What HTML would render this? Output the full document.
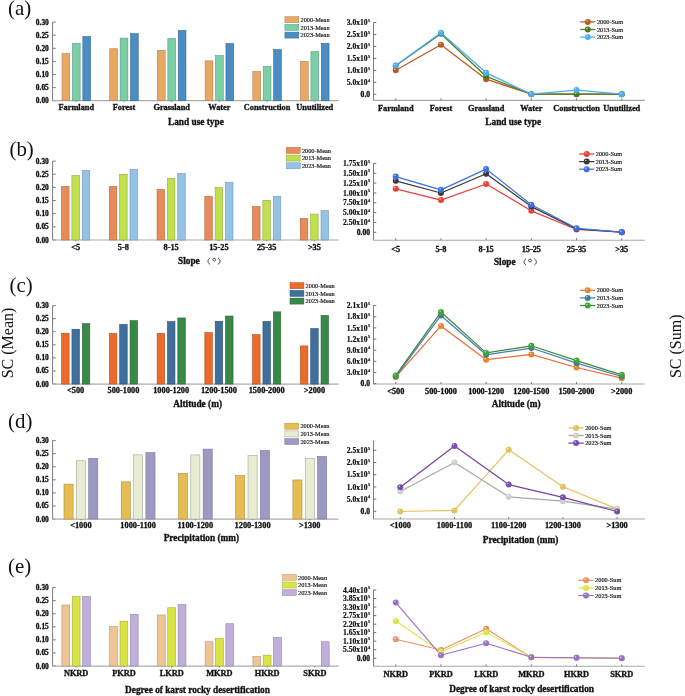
<!DOCTYPE html>
<html><head><meta charset="utf-8"><style>
html,body{margin:0;padding:0;background:#fff;}
svg{display:block;font-family:"Liberation Serif", serif;filter:blur(0.35px);}
</style></head><body>
<svg width="685" height="696" viewBox="0 0 685 696">
<defs><radialGradient id="gBA5A22" cx="0.36" cy="0.33" r="0.75"><stop offset="0" stop-color="#fff" stop-opacity="0.95"/><stop offset="0.22" stop-color="#BA5A22" stop-opacity="1"/><stop offset="0.8" stop-color="#BA5A22"/><stop offset="1" stop-color="#BA5A22" /></radialGradient><radialGradient id="g4B7B1F" cx="0.36" cy="0.33" r="0.75"><stop offset="0" stop-color="#fff" stop-opacity="0.95"/><stop offset="0.22" stop-color="#4B7B1F" stop-opacity="1"/><stop offset="0.8" stop-color="#4B7B1F"/><stop offset="1" stop-color="#4B7B1F" /></radialGradient><radialGradient id="g4AADF5" cx="0.36" cy="0.33" r="0.75"><stop offset="0" stop-color="#fff" stop-opacity="0.95"/><stop offset="0.22" stop-color="#4AADF5" stop-opacity="1"/><stop offset="0.8" stop-color="#4AADF5"/><stop offset="1" stop-color="#4AADF5" /></radialGradient><radialGradient id="gE8403C" cx="0.36" cy="0.33" r="0.75"><stop offset="0" stop-color="#fff" stop-opacity="0.95"/><stop offset="0.22" stop-color="#E8403C" stop-opacity="1"/><stop offset="0.8" stop-color="#E8403C"/><stop offset="1" stop-color="#E8403C" /></radialGradient><radialGradient id="g383838" cx="0.36" cy="0.33" r="0.75"><stop offset="0" stop-color="#fff" stop-opacity="0.95"/><stop offset="0.22" stop-color="#383838" stop-opacity="1"/><stop offset="0.8" stop-color="#383838"/><stop offset="1" stop-color="#383838" /></radialGradient><radialGradient id="g3A72E6" cx="0.36" cy="0.33" r="0.75"><stop offset="0" stop-color="#fff" stop-opacity="0.95"/><stop offset="0.22" stop-color="#3A72E6" stop-opacity="1"/><stop offset="0.8" stop-color="#3A72E6"/><stop offset="1" stop-color="#3A72E6" /></radialGradient><radialGradient id="gE8832E" cx="0.36" cy="0.33" r="0.75"><stop offset="0" stop-color="#fff" stop-opacity="0.95"/><stop offset="0.22" stop-color="#E8832E" stop-opacity="1"/><stop offset="0.8" stop-color="#E8832E"/><stop offset="1" stop-color="#E8832E" /></radialGradient><radialGradient id="g3A8094" cx="0.36" cy="0.33" r="0.75"><stop offset="0" stop-color="#fff" stop-opacity="0.95"/><stop offset="0.22" stop-color="#3A8094" stop-opacity="1"/><stop offset="0.8" stop-color="#3A8094"/><stop offset="1" stop-color="#3A8094" /></radialGradient><radialGradient id="g40A232" cx="0.36" cy="0.33" r="0.75"><stop offset="0" stop-color="#fff" stop-opacity="0.95"/><stop offset="0.22" stop-color="#40A232" stop-opacity="1"/><stop offset="0.8" stop-color="#40A232"/><stop offset="1" stop-color="#40A232" /></radialGradient><radialGradient id="gE4C060" cx="0.36" cy="0.33" r="0.75"><stop offset="0" stop-color="#fff" stop-opacity="0.95"/><stop offset="0.22" stop-color="#E4C060" stop-opacity="1"/><stop offset="0.8" stop-color="#E4C060"/><stop offset="1" stop-color="#E4C060" /></radialGradient><radialGradient id="gD0D0C8" cx="0.36" cy="0.33" r="0.75"><stop offset="0" stop-color="#fff" stop-opacity="0.95"/><stop offset="0.22" stop-color="#D0D0C8" stop-opacity="1"/><stop offset="0.8" stop-color="#D0D0C8"/><stop offset="1" stop-color="#D0D0C8" /></radialGradient><radialGradient id="g7A4EAE" cx="0.36" cy="0.33" r="0.75"><stop offset="0" stop-color="#fff" stop-opacity="0.95"/><stop offset="0.22" stop-color="#7A4EAE" stop-opacity="1"/><stop offset="0.8" stop-color="#7A4EAE"/><stop offset="1" stop-color="#7A4EAE" /></radialGradient><radialGradient id="gEE9068" cx="0.36" cy="0.33" r="0.75"><stop offset="0" stop-color="#fff" stop-opacity="0.95"/><stop offset="0.22" stop-color="#EE9068" stop-opacity="1"/><stop offset="0.8" stop-color="#EE9068"/><stop offset="1" stop-color="#EE9068" /></radialGradient><radialGradient id="gD8E640" cx="0.36" cy="0.33" r="0.75"><stop offset="0" stop-color="#fff" stop-opacity="0.95"/><stop offset="0.22" stop-color="#D8E640" stop-opacity="1"/><stop offset="0.8" stop-color="#D8E640"/><stop offset="1" stop-color="#D8E640" /></radialGradient><radialGradient id="g9A70C8" cx="0.36" cy="0.33" r="0.75"><stop offset="0" stop-color="#fff" stop-opacity="0.95"/><stop offset="0.22" stop-color="#9A70C8" stop-opacity="1"/><stop offset="0.8" stop-color="#9A70C8"/><stop offset="1" stop-color="#9A70C8" /></radialGradient></defs>
<rect width="685" height="696" fill="#fff"/>
<line x1="52.6" y1="22.1" x2="52.6" y2="100.7" stroke="#6e6e6e" stroke-width="0.9"/>
<line x1="52.6" y1="100.7" x2="55.800000000000004" y2="100.7" stroke="#6e6e6e" stroke-width="0.9"/>
<text x="48.8" y="103.2" font-size="7.4" font-weight="bold" stroke="#111" stroke-width="0.32" text-anchor="end" fill="#111" >0.00</text>
<line x1="52.6" y1="87.6" x2="55.800000000000004" y2="87.6" stroke="#6e6e6e" stroke-width="0.9"/>
<text x="48.8" y="90.1" font-size="7.4" font-weight="bold" stroke="#111" stroke-width="0.32" text-anchor="end" fill="#111" >0.05</text>
<line x1="52.6" y1="74.5" x2="55.800000000000004" y2="74.5" stroke="#6e6e6e" stroke-width="0.9"/>
<text x="48.8" y="77" font-size="7.4" font-weight="bold" stroke="#111" stroke-width="0.32" text-anchor="end" fill="#111" >0.10</text>
<line x1="52.6" y1="61.4" x2="55.800000000000004" y2="61.4" stroke="#6e6e6e" stroke-width="0.9"/>
<text x="48.8" y="63.9" font-size="7.4" font-weight="bold" stroke="#111" stroke-width="0.32" text-anchor="end" fill="#111" >0.15</text>
<line x1="52.6" y1="48.3" x2="55.800000000000004" y2="48.3" stroke="#6e6e6e" stroke-width="0.9"/>
<text x="48.8" y="50.8" font-size="7.4" font-weight="bold" stroke="#111" stroke-width="0.32" text-anchor="end" fill="#111" >0.20</text>
<line x1="52.6" y1="35.2" x2="55.800000000000004" y2="35.2" stroke="#6e6e6e" stroke-width="0.9"/>
<text x="48.8" y="37.7" font-size="7.4" font-weight="bold" stroke="#111" stroke-width="0.32" text-anchor="end" fill="#111" >0.25</text>
<line x1="52.6" y1="22.1" x2="55.800000000000004" y2="22.1" stroke="#6e6e6e" stroke-width="0.9"/>
<text x="48.8" y="24.6" font-size="7.4" font-weight="bold" stroke="#111" stroke-width="0.32" text-anchor="end" fill="#111" >0.30</text>
<line x1="52.15" y1="100.7" x2="338.6" y2="100.7" stroke="#acacac" stroke-width="1.2"/>
<rect x="62.05" y="53.65" width="7.7" height="47.05" fill="#E9A862" stroke="#b08050" stroke-width="0.6"/>
<rect x="72.45" y="43.25" width="7.7" height="57.45" fill="#7BCFA7" stroke="#5a9a80" stroke-width="0.6"/>
<rect x="82.85" y="36.55" width="7.7" height="64.15" fill="#4A8DC2" stroke="#3a6a90" stroke-width="0.6"/>
<text x="76.3" y="109.8" font-size="8.3" font-weight="bold" stroke="#111" stroke-width="0.32" text-anchor="middle" fill="#111" >Farmland</text>
<rect x="109.75" y="48.75" width="7.7" height="51.95" fill="#E9A862" stroke="#b08050" stroke-width="0.6"/>
<rect x="120.15" y="38.1" width="7.7" height="62.6" fill="#7BCFA7" stroke="#5a9a80" stroke-width="0.6"/>
<rect x="130.55" y="33.65" width="7.7" height="67.05" fill="#4A8DC2" stroke="#3a6a90" stroke-width="0.6"/>
<text x="124" y="109.8" font-size="8.3" font-weight="bold" stroke="#111" stroke-width="0.32" text-anchor="middle" fill="#111" >Forest</text>
<rect x="157.45" y="50.45" width="7.7" height="50.25" fill="#E9A862" stroke="#b08050" stroke-width="0.6"/>
<rect x="167.85" y="38.65" width="7.7" height="62.05" fill="#7BCFA7" stroke="#5a9a80" stroke-width="0.6"/>
<rect x="178.25" y="30.45" width="7.7" height="70.25" fill="#4A8DC2" stroke="#3a6a90" stroke-width="0.6"/>
<text x="171.7" y="109.8" font-size="8.3" font-weight="bold" stroke="#111" stroke-width="0.32" text-anchor="middle" fill="#111" >Grassland</text>
<rect x="205.15" y="60.85" width="7.7" height="39.85" fill="#E9A862" stroke="#b08050" stroke-width="0.6"/>
<rect x="215.55" y="55.55" width="7.7" height="45.15" fill="#7BCFA7" stroke="#5a9a80" stroke-width="0.6"/>
<rect x="225.95" y="43.55" width="7.7" height="57.15" fill="#4A8DC2" stroke="#3a6a90" stroke-width="0.6"/>
<text x="219.4" y="109.8" font-size="8.3" font-weight="bold" stroke="#111" stroke-width="0.32" text-anchor="middle" fill="#111" >Water</text>
<rect x="252.85" y="71.55" width="7.7" height="29.15" fill="#E9A862" stroke="#b08050" stroke-width="0.6"/>
<rect x="263.25" y="66.65" width="7.7" height="34.05" fill="#7BCFA7" stroke="#5a9a80" stroke-width="0.6"/>
<rect x="273.65" y="49.65" width="7.7" height="51.05" fill="#4A8DC2" stroke="#3a6a90" stroke-width="0.6"/>
<text x="267.1" y="109.8" font-size="8.3" font-weight="bold" stroke="#111" stroke-width="0.32" text-anchor="middle" fill="#111" >Construction</text>
<rect x="300.55" y="61.55" width="7.7" height="39.15" fill="#E9A862" stroke="#b08050" stroke-width="0.6"/>
<rect x="310.95" y="51.65" width="7.7" height="49.05" fill="#7BCFA7" stroke="#5a9a80" stroke-width="0.6"/>
<rect x="321.35" y="43.35" width="7.7" height="57.35" fill="#4A8DC2" stroke="#3a6a90" stroke-width="0.6"/>
<text x="314.8" y="109.8" font-size="8.3" font-weight="bold" stroke="#111" stroke-width="0.32" text-anchor="middle" fill="#111" >Unutilized</text>
<text x="195.9" y="125" font-size="9.3" font-weight="bold" stroke="#111" stroke-width="0.32" text-anchor="middle" fill="#111" >Land use type</text>
<line x1="76.3" y1="100.7" x2="76.3" y2="102.1" stroke="#6e6e6e" stroke-width="0.7"/>
<line x1="124" y1="100.7" x2="124" y2="102.1" stroke="#6e6e6e" stroke-width="0.7"/>
<line x1="171.7" y1="100.7" x2="171.7" y2="102.1" stroke="#6e6e6e" stroke-width="0.7"/>
<line x1="219.4" y1="100.7" x2="219.4" y2="102.1" stroke="#6e6e6e" stroke-width="0.7"/>
<line x1="267.1" y1="100.7" x2="267.1" y2="102.1" stroke="#6e6e6e" stroke-width="0.7"/>
<line x1="314.8" y1="100.7" x2="314.8" y2="102.1" stroke="#6e6e6e" stroke-width="0.7"/>
<rect x="284.9" y="16.7" width="13.9" height="6" fill="#E9A862" stroke="#b08050" stroke-width="0.5"/>
<text x="300.5" y="21.9" font-size="6.3" text-anchor="start" fill="#1a1a1a" stroke="#1a1a1a" stroke-width="0.2">2000-Mean</text>
<rect x="284.9" y="24.4" width="13.9" height="6" fill="#7BCFA7" stroke="#5a9a80" stroke-width="0.5"/>
<text x="300.5" y="29.6" font-size="6.3" text-anchor="start" fill="#1a1a1a" stroke="#1a1a1a" stroke-width="0.2">2013-Mean</text>
<rect x="284.9" y="32.1" width="13.9" height="6" fill="#4A8DC2" stroke="#3a6a90" stroke-width="0.5"/>
<text x="300.5" y="37.3" font-size="6.3" text-anchor="start" fill="#1a1a1a" stroke="#1a1a1a" stroke-width="0.2">2023-Mean</text>
<line x1="52.6" y1="161.1" x2="52.6" y2="240" stroke="#6e6e6e" stroke-width="0.9"/>
<line x1="52.6" y1="240" x2="55.800000000000004" y2="240" stroke="#6e6e6e" stroke-width="0.9"/>
<text x="48.8" y="242.5" font-size="7.4" font-weight="bold" stroke="#111" stroke-width="0.32" text-anchor="end" fill="#111" >0.00</text>
<line x1="52.6" y1="226.85" x2="55.800000000000004" y2="226.85" stroke="#6e6e6e" stroke-width="0.9"/>
<text x="48.8" y="229.35" font-size="7.4" font-weight="bold" stroke="#111" stroke-width="0.32" text-anchor="end" fill="#111" >0.05</text>
<line x1="52.6" y1="213.7" x2="55.800000000000004" y2="213.7" stroke="#6e6e6e" stroke-width="0.9"/>
<text x="48.8" y="216.2" font-size="7.4" font-weight="bold" stroke="#111" stroke-width="0.32" text-anchor="end" fill="#111" >0.10</text>
<line x1="52.6" y1="200.55" x2="55.800000000000004" y2="200.55" stroke="#6e6e6e" stroke-width="0.9"/>
<text x="48.8" y="203.05" font-size="7.4" font-weight="bold" stroke="#111" stroke-width="0.32" text-anchor="end" fill="#111" >0.15</text>
<line x1="52.6" y1="187.4" x2="55.800000000000004" y2="187.4" stroke="#6e6e6e" stroke-width="0.9"/>
<text x="48.8" y="189.9" font-size="7.4" font-weight="bold" stroke="#111" stroke-width="0.32" text-anchor="end" fill="#111" >0.20</text>
<line x1="52.6" y1="174.25" x2="55.800000000000004" y2="174.25" stroke="#6e6e6e" stroke-width="0.9"/>
<text x="48.8" y="176.75" font-size="7.4" font-weight="bold" stroke="#111" stroke-width="0.32" text-anchor="end" fill="#111" >0.25</text>
<line x1="52.6" y1="161.1" x2="55.800000000000004" y2="161.1" stroke="#6e6e6e" stroke-width="0.9"/>
<text x="48.8" y="163.6" font-size="7.4" font-weight="bold" stroke="#111" stroke-width="0.32" text-anchor="end" fill="#111" >0.30</text>
<line x1="52.15" y1="240" x2="338.6" y2="240" stroke="#acacac" stroke-width="1.2"/>
<rect x="61.55" y="186.45" width="7.5" height="53.55" fill="#E98B58" stroke="#b06a40" stroke-width="0.6"/>
<rect x="71.9" y="175.65" width="7.5" height="64.35" fill="#C0E04E" stroke="#90a840" stroke-width="0.6"/>
<rect x="82.25" y="170.45" width="7.5" height="69.55" fill="#95C2E7" stroke="#7098b8" stroke-width="0.6"/>
<text x="75.65" y="250.2" font-size="8.3" font-weight="bold" stroke="#111" stroke-width="0.32" text-anchor="middle" fill="#111" >&lt;5</text>
<rect x="109.3" y="186.45" width="7.5" height="53.55" fill="#E98B58" stroke="#b06a40" stroke-width="0.6"/>
<rect x="119.65" y="174.45" width="7.5" height="65.55" fill="#C0E04E" stroke="#90a840" stroke-width="0.6"/>
<rect x="130" y="169.35" width="7.5" height="70.65" fill="#95C2E7" stroke="#7098b8" stroke-width="0.6"/>
<text x="123.4" y="250.2" font-size="8.3" font-weight="bold" stroke="#111" stroke-width="0.32" text-anchor="middle" fill="#111" >5-8</text>
<rect x="157.05" y="189.41" width="7.5" height="50.59" fill="#E98B58" stroke="#b06a40" stroke-width="0.6"/>
<rect x="167.4" y="178.45" width="7.5" height="61.55" fill="#C0E04E" stroke="#90a840" stroke-width="0.6"/>
<rect x="177.75" y="173.41" width="7.5" height="66.59" fill="#95C2E7" stroke="#7098b8" stroke-width="0.6"/>
<text x="171.15" y="250.2" font-size="8.3" font-weight="bold" stroke="#111" stroke-width="0.32" text-anchor="middle" fill="#111" >8-15</text>
<rect x="204.8" y="196.45" width="7.5" height="43.55" fill="#E98B58" stroke="#b06a40" stroke-width="0.6"/>
<rect x="215.15" y="187.55" width="7.5" height="52.45" fill="#C0E04E" stroke="#90a840" stroke-width="0.6"/>
<rect x="225.5" y="182.65" width="7.5" height="57.35" fill="#95C2E7" stroke="#7098b8" stroke-width="0.6"/>
<text x="218.9" y="250.2" font-size="8.3" font-weight="bold" stroke="#111" stroke-width="0.32" text-anchor="middle" fill="#111" >15-25</text>
<rect x="252.55" y="206.65" width="7.5" height="33.35" fill="#E98B58" stroke="#b06a40" stroke-width="0.6"/>
<rect x="262.9" y="200.35" width="7.5" height="39.65" fill="#C0E04E" stroke="#90a840" stroke-width="0.6"/>
<rect x="273.25" y="196.25" width="7.5" height="43.75" fill="#95C2E7" stroke="#7098b8" stroke-width="0.6"/>
<text x="266.65" y="250.2" font-size="8.3" font-weight="bold" stroke="#111" stroke-width="0.32" text-anchor="middle" fill="#111" >25-35</text>
<rect x="300.3" y="218.45" width="7.5" height="21.55" fill="#E98B58" stroke="#b06a40" stroke-width="0.6"/>
<rect x="310.65" y="214.15" width="7.5" height="25.85" fill="#C0E04E" stroke="#90a840" stroke-width="0.6"/>
<rect x="321" y="210.65" width="7.5" height="29.35" fill="#95C2E7" stroke="#7098b8" stroke-width="0.6"/>
<text x="314.4" y="250.2" font-size="8.3" font-weight="bold" stroke="#111" stroke-width="0.32" text-anchor="middle" fill="#111" >&gt;35</text>
<line x1="75.65" y1="240" x2="75.65" y2="241.4" stroke="#6e6e6e" stroke-width="0.7"/>
<line x1="123.4" y1="240" x2="123.4" y2="241.4" stroke="#6e6e6e" stroke-width="0.7"/>
<line x1="171.15" y1="240" x2="171.15" y2="241.4" stroke="#6e6e6e" stroke-width="0.7"/>
<line x1="218.9" y1="240" x2="218.9" y2="241.4" stroke="#6e6e6e" stroke-width="0.7"/>
<line x1="266.65" y1="240" x2="266.65" y2="241.4" stroke="#6e6e6e" stroke-width="0.7"/>
<line x1="314.4" y1="240" x2="314.4" y2="241.4" stroke="#6e6e6e" stroke-width="0.7"/>
<rect x="286.3" y="147.4" width="13.9" height="6" fill="#E98B58" stroke="#b06a40" stroke-width="0.5"/>
<text x="301.9" y="152.6" font-size="6.3" text-anchor="start" fill="#1a1a1a" stroke="#1a1a1a" stroke-width="0.2">2000-Mean</text>
<rect x="286.3" y="155.1" width="13.9" height="6" fill="#C0E04E" stroke="#90a840" stroke-width="0.5"/>
<text x="301.9" y="160.3" font-size="6.3" text-anchor="start" fill="#1a1a1a" stroke="#1a1a1a" stroke-width="0.2">2013-Mean</text>
<rect x="286.3" y="162.8" width="13.9" height="6" fill="#95C2E7" stroke="#7098b8" stroke-width="0.5"/>
<text x="301.9" y="168" font-size="6.3" text-anchor="start" fill="#1a1a1a" stroke="#1a1a1a" stroke-width="0.2">2023-Mean</text>
<line x1="52.6" y1="305.63" x2="52.6" y2="384.05" stroke="#6e6e6e" stroke-width="0.9"/>
<line x1="52.6" y1="384.05" x2="55.800000000000004" y2="384.05" stroke="#6e6e6e" stroke-width="0.9"/>
<text x="48.8" y="386.55" font-size="7.4" font-weight="bold" stroke="#111" stroke-width="0.32" text-anchor="end" fill="#111" >0.00</text>
<line x1="52.6" y1="370.98" x2="55.800000000000004" y2="370.98" stroke="#6e6e6e" stroke-width="0.9"/>
<text x="48.8" y="373.48" font-size="7.4" font-weight="bold" stroke="#111" stroke-width="0.32" text-anchor="end" fill="#111" >0.05</text>
<line x1="52.6" y1="357.91" x2="55.800000000000004" y2="357.91" stroke="#6e6e6e" stroke-width="0.9"/>
<text x="48.8" y="360.41" font-size="7.4" font-weight="bold" stroke="#111" stroke-width="0.32" text-anchor="end" fill="#111" >0.10</text>
<line x1="52.6" y1="344.84" x2="55.800000000000004" y2="344.84" stroke="#6e6e6e" stroke-width="0.9"/>
<text x="48.8" y="347.34" font-size="7.4" font-weight="bold" stroke="#111" stroke-width="0.32" text-anchor="end" fill="#111" >0.15</text>
<line x1="52.6" y1="331.77" x2="55.800000000000004" y2="331.77" stroke="#6e6e6e" stroke-width="0.9"/>
<text x="48.8" y="334.27" font-size="7.4" font-weight="bold" stroke="#111" stroke-width="0.32" text-anchor="end" fill="#111" >0.20</text>
<line x1="52.6" y1="318.7" x2="55.800000000000004" y2="318.7" stroke="#6e6e6e" stroke-width="0.9"/>
<text x="48.8" y="321.2" font-size="7.4" font-weight="bold" stroke="#111" stroke-width="0.32" text-anchor="end" fill="#111" >0.25</text>
<line x1="52.6" y1="305.63" x2="55.800000000000004" y2="305.63" stroke="#6e6e6e" stroke-width="0.9"/>
<text x="48.8" y="308.13" font-size="7.4" font-weight="bold" stroke="#111" stroke-width="0.32" text-anchor="end" fill="#111" >0.30</text>
<line x1="52.15" y1="384.05" x2="338.6" y2="384.05" stroke="#acacac" stroke-width="1.2"/>
<rect x="61.6" y="333.25" width="7.5" height="50.8" fill="#EC6B2A" stroke="#b05020" stroke-width="0.6"/>
<rect x="71.95" y="329.25" width="7.5" height="54.8" fill="#3F6F9D" stroke="#2f5070" stroke-width="0.6"/>
<rect x="82.3" y="323.65" width="7.5" height="60.4" fill="#39884A" stroke="#2a6636" stroke-width="0.6"/>
<text x="75.7" y="393.3" font-size="8.3" font-weight="bold" stroke="#111" stroke-width="0.32" text-anchor="middle" fill="#111" >&lt;500</text>
<rect x="109.35" y="333.55" width="7.5" height="50.5" fill="#EC6B2A" stroke="#b05020" stroke-width="0.6"/>
<rect x="119.7" y="324.35" width="7.5" height="59.7" fill="#3F6F9D" stroke="#2f5070" stroke-width="0.6"/>
<rect x="130.05" y="320.65" width="7.5" height="63.4" fill="#39884A" stroke="#2a6636" stroke-width="0.6"/>
<text x="123.45" y="393.3" font-size="8.3" font-weight="bold" stroke="#111" stroke-width="0.32" text-anchor="middle" fill="#111" >500-1000</text>
<rect x="157.1" y="333.35" width="7.5" height="50.7" fill="#EC6B2A" stroke="#b05020" stroke-width="0.6"/>
<rect x="167.45" y="321.55" width="7.5" height="62.5" fill="#3F6F9D" stroke="#2f5070" stroke-width="0.6"/>
<rect x="177.8" y="317.95" width="7.5" height="66.1" fill="#39884A" stroke="#2a6636" stroke-width="0.6"/>
<text x="171.2" y="393.3" font-size="8.3" font-weight="bold" stroke="#111" stroke-width="0.32" text-anchor="middle" fill="#111" >1000-1200</text>
<rect x="204.85" y="332.65" width="7.5" height="51.4" fill="#EC6B2A" stroke="#b05020" stroke-width="0.6"/>
<rect x="215.2" y="321.3" width="7.5" height="62.75" fill="#3F6F9D" stroke="#2f5070" stroke-width="0.6"/>
<rect x="225.55" y="316.05" width="7.5" height="68" fill="#39884A" stroke="#2a6636" stroke-width="0.6"/>
<text x="218.95" y="393.3" font-size="8.3" font-weight="bold" stroke="#111" stroke-width="0.32" text-anchor="middle" fill="#111" >1200-1500</text>
<rect x="252.6" y="334.65" width="7.5" height="49.4" fill="#EC6B2A" stroke="#b05020" stroke-width="0.6"/>
<rect x="262.95" y="321.45" width="7.5" height="62.6" fill="#3F6F9D" stroke="#2f5070" stroke-width="0.6"/>
<rect x="273.3" y="311.85" width="7.5" height="72.2" fill="#39884A" stroke="#2a6636" stroke-width="0.6"/>
<text x="266.7" y="393.3" font-size="8.3" font-weight="bold" stroke="#111" stroke-width="0.32" text-anchor="middle" fill="#111" >1500-2000</text>
<rect x="300.35" y="345.95" width="7.5" height="38.1" fill="#EC6B2A" stroke="#b05020" stroke-width="0.6"/>
<rect x="310.7" y="328.55" width="7.5" height="55.5" fill="#3F6F9D" stroke="#2f5070" stroke-width="0.6"/>
<rect x="321.05" y="315.45" width="7.5" height="68.6" fill="#39884A" stroke="#2a6636" stroke-width="0.6"/>
<text x="314.45" y="393.3" font-size="8.3" font-weight="bold" stroke="#111" stroke-width="0.32" text-anchor="middle" fill="#111" >&gt;2000</text>
<text x="197.6" y="407" font-size="9.3" font-weight="bold" stroke="#111" stroke-width="0.32" text-anchor="middle" fill="#111" >Altitude (m)</text>
<line x1="75.7" y1="384.05" x2="75.7" y2="385.45" stroke="#6e6e6e" stroke-width="0.7"/>
<line x1="123.45" y1="384.05" x2="123.45" y2="385.45" stroke="#6e6e6e" stroke-width="0.7"/>
<line x1="171.2" y1="384.05" x2="171.2" y2="385.45" stroke="#6e6e6e" stroke-width="0.7"/>
<line x1="218.95" y1="384.05" x2="218.95" y2="385.45" stroke="#6e6e6e" stroke-width="0.7"/>
<line x1="266.7" y1="384.05" x2="266.7" y2="385.45" stroke="#6e6e6e" stroke-width="0.7"/>
<line x1="314.45" y1="384.05" x2="314.45" y2="385.45" stroke="#6e6e6e" stroke-width="0.7"/>
<rect x="290" y="282.7" width="13.9" height="6" fill="#EC6B2A" stroke="#b05020" stroke-width="0.5"/>
<text x="305.6" y="287.9" font-size="6.3" text-anchor="start" fill="#1a1a1a" stroke="#1a1a1a" stroke-width="0.2">2000-Mean</text>
<rect x="290" y="290.4" width="13.9" height="6" fill="#3F6F9D" stroke="#2f5070" stroke-width="0.5"/>
<text x="305.6" y="295.6" font-size="6.3" text-anchor="start" fill="#1a1a1a" stroke="#1a1a1a" stroke-width="0.2">2013-Mean</text>
<rect x="290" y="298.1" width="13.9" height="6" fill="#39884A" stroke="#2a6636" stroke-width="0.5"/>
<text x="305.6" y="303.3" font-size="6.3" text-anchor="start" fill="#1a1a1a" stroke="#1a1a1a" stroke-width="0.2">2023-Mean</text>
<line x1="52.6" y1="440.63" x2="52.6" y2="519.05" stroke="#6e6e6e" stroke-width="0.9"/>
<line x1="52.6" y1="519.05" x2="55.800000000000004" y2="519.05" stroke="#6e6e6e" stroke-width="0.9"/>
<text x="48.8" y="521.55" font-size="7.4" font-weight="bold" stroke="#111" stroke-width="0.32" text-anchor="end" fill="#111" >0.00</text>
<line x1="52.6" y1="505.98" x2="55.800000000000004" y2="505.98" stroke="#6e6e6e" stroke-width="0.9"/>
<text x="48.8" y="508.48" font-size="7.4" font-weight="bold" stroke="#111" stroke-width="0.32" text-anchor="end" fill="#111" >0.05</text>
<line x1="52.6" y1="492.91" x2="55.800000000000004" y2="492.91" stroke="#6e6e6e" stroke-width="0.9"/>
<text x="48.8" y="495.41" font-size="7.4" font-weight="bold" stroke="#111" stroke-width="0.32" text-anchor="end" fill="#111" >0.10</text>
<line x1="52.6" y1="479.84" x2="55.800000000000004" y2="479.84" stroke="#6e6e6e" stroke-width="0.9"/>
<text x="48.8" y="482.34" font-size="7.4" font-weight="bold" stroke="#111" stroke-width="0.32" text-anchor="end" fill="#111" >0.15</text>
<line x1="52.6" y1="466.77" x2="55.800000000000004" y2="466.77" stroke="#6e6e6e" stroke-width="0.9"/>
<text x="48.8" y="469.27" font-size="7.4" font-weight="bold" stroke="#111" stroke-width="0.32" text-anchor="end" fill="#111" >0.20</text>
<line x1="52.6" y1="453.7" x2="55.800000000000004" y2="453.7" stroke="#6e6e6e" stroke-width="0.9"/>
<text x="48.8" y="456.2" font-size="7.4" font-weight="bold" stroke="#111" stroke-width="0.32" text-anchor="end" fill="#111" >0.25</text>
<line x1="52.6" y1="440.63" x2="55.800000000000004" y2="440.63" stroke="#6e6e6e" stroke-width="0.9"/>
<text x="48.8" y="443.13" font-size="7.4" font-weight="bold" stroke="#111" stroke-width="0.32" text-anchor="end" fill="#111" >0.30</text>
<line x1="52.15" y1="519.05" x2="338.6" y2="519.05" stroke="#acacac" stroke-width="1.2"/>
<rect x="64" y="484.15" width="9.1" height="34.9" fill="#E6BD52" stroke="#b09040" stroke-width="0.6"/>
<rect x="76.35" y="460.75" width="9.1" height="58.3" fill="#E8ECD2" stroke="#a0a898" stroke-width="0.6"/>
<rect x="88.7" y="458.35" width="9.1" height="60.7" fill="#9C9AC3" stroke="#7a7898" stroke-width="0.6"/>
<text x="80.9" y="527.7" font-size="8.3" font-weight="bold" stroke="#111" stroke-width="0.32" text-anchor="middle" fill="#111" >&lt;1000</text>
<rect x="121.22" y="481.85" width="9.1" height="37.2" fill="#E6BD52" stroke="#b09040" stroke-width="0.6"/>
<rect x="133.57" y="454.85" width="9.1" height="64.2" fill="#E8ECD2" stroke="#a0a898" stroke-width="0.6"/>
<rect x="145.92" y="452.65" width="9.1" height="66.4" fill="#9C9AC3" stroke="#7a7898" stroke-width="0.6"/>
<text x="138.12" y="527.7" font-size="8.3" font-weight="bold" stroke="#111" stroke-width="0.32" text-anchor="middle" fill="#111" >1000-1100</text>
<rect x="178.44" y="473.35" width="9.1" height="45.7" fill="#E6BD52" stroke="#b09040" stroke-width="0.6"/>
<rect x="190.79" y="454.95" width="9.1" height="64.1" fill="#E8ECD2" stroke="#a0a898" stroke-width="0.6"/>
<rect x="203.14" y="449.11" width="9.1" height="69.94" fill="#9C9AC3" stroke="#7a7898" stroke-width="0.6"/>
<text x="195.34" y="527.7" font-size="8.3" font-weight="bold" stroke="#111" stroke-width="0.32" text-anchor="middle" fill="#111" >1100-1200</text>
<rect x="235.66" y="475.55" width="9.1" height="43.5" fill="#E6BD52" stroke="#b09040" stroke-width="0.6"/>
<rect x="248.01" y="455.55" width="9.1" height="63.5" fill="#E8ECD2" stroke="#a0a898" stroke-width="0.6"/>
<rect x="260.36" y="450.55" width="9.1" height="68.5" fill="#9C9AC3" stroke="#7a7898" stroke-width="0.6"/>
<text x="252.56" y="527.7" font-size="8.3" font-weight="bold" stroke="#111" stroke-width="0.32" text-anchor="middle" fill="#111" >1200-1300</text>
<rect x="292.88" y="479.95" width="9.1" height="39.1" fill="#E6BD52" stroke="#b09040" stroke-width="0.6"/>
<rect x="305.23" y="458.65" width="9.1" height="60.4" fill="#E8ECD2" stroke="#a0a898" stroke-width="0.6"/>
<rect x="317.58" y="456.45" width="9.1" height="62.6" fill="#9C9AC3" stroke="#7a7898" stroke-width="0.6"/>
<text x="309.78" y="527.7" font-size="8.3" font-weight="bold" stroke="#111" stroke-width="0.32" text-anchor="middle" fill="#111" >&gt;1300</text>
<text x="201.4" y="541.2" font-size="9.3" font-weight="bold" stroke="#111" stroke-width="0.32" text-anchor="middle" fill="#111" >Precipitation (mm)</text>
<line x1="80.9" y1="519.05" x2="80.9" y2="520.45" stroke="#6e6e6e" stroke-width="0.7"/>
<line x1="138.12" y1="519.05" x2="138.12" y2="520.45" stroke="#6e6e6e" stroke-width="0.7"/>
<line x1="195.34" y1="519.05" x2="195.34" y2="520.45" stroke="#6e6e6e" stroke-width="0.7"/>
<line x1="252.56" y1="519.05" x2="252.56" y2="520.45" stroke="#6e6e6e" stroke-width="0.7"/>
<line x1="309.78" y1="519.05" x2="309.78" y2="520.45" stroke="#6e6e6e" stroke-width="0.7"/>
<rect x="284.8" y="423.2" width="13.9" height="6" fill="#E6BD52" stroke="#b09040" stroke-width="0.5"/>
<text x="300.4" y="428.4" font-size="6.3" text-anchor="start" fill="#1a1a1a" stroke="#1a1a1a" stroke-width="0.2">2000-Mean</text>
<rect x="284.8" y="430.9" width="13.9" height="6" fill="#E8ECD2" stroke="#a0a898" stroke-width="0.5"/>
<text x="300.4" y="436.1" font-size="6.3" text-anchor="start" fill="#1a1a1a" stroke="#1a1a1a" stroke-width="0.2">2013-Mean</text>
<rect x="284.8" y="438.6" width="13.9" height="6" fill="#9C9AC3" stroke="#7a7898" stroke-width="0.5"/>
<text x="300.4" y="443.8" font-size="6.3" text-anchor="start" fill="#1a1a1a" stroke="#1a1a1a" stroke-width="0.2">2023-Mean</text>
<line x1="52.6" y1="587.6" x2="52.6" y2="666.05" stroke="#6e6e6e" stroke-width="0.9"/>
<line x1="52.6" y1="666.05" x2="55.800000000000004" y2="666.05" stroke="#6e6e6e" stroke-width="0.9"/>
<text x="48.8" y="668.55" font-size="7.4" font-weight="bold" stroke="#111" stroke-width="0.32" text-anchor="end" fill="#111" >0.00</text>
<line x1="52.6" y1="652.97" x2="55.800000000000004" y2="652.97" stroke="#6e6e6e" stroke-width="0.9"/>
<text x="48.8" y="655.47" font-size="7.4" font-weight="bold" stroke="#111" stroke-width="0.32" text-anchor="end" fill="#111" >0.05</text>
<line x1="52.6" y1="639.9" x2="55.800000000000004" y2="639.9" stroke="#6e6e6e" stroke-width="0.9"/>
<text x="48.8" y="642.4" font-size="7.4" font-weight="bold" stroke="#111" stroke-width="0.32" text-anchor="end" fill="#111" >0.10</text>
<line x1="52.6" y1="626.82" x2="55.800000000000004" y2="626.82" stroke="#6e6e6e" stroke-width="0.9"/>
<text x="48.8" y="629.32" font-size="7.4" font-weight="bold" stroke="#111" stroke-width="0.32" text-anchor="end" fill="#111" >0.15</text>
<line x1="52.6" y1="613.75" x2="55.800000000000004" y2="613.75" stroke="#6e6e6e" stroke-width="0.9"/>
<text x="48.8" y="616.25" font-size="7.4" font-weight="bold" stroke="#111" stroke-width="0.32" text-anchor="end" fill="#111" >0.20</text>
<line x1="52.6" y1="600.67" x2="55.800000000000004" y2="600.67" stroke="#6e6e6e" stroke-width="0.9"/>
<text x="48.8" y="603.17" font-size="7.4" font-weight="bold" stroke="#111" stroke-width="0.32" text-anchor="end" fill="#111" >0.25</text>
<line x1="52.6" y1="587.6" x2="55.800000000000004" y2="587.6" stroke="#6e6e6e" stroke-width="0.9"/>
<text x="48.8" y="590.1" font-size="7.4" font-weight="bold" stroke="#111" stroke-width="0.32" text-anchor="end" fill="#111" >0.30</text>
<line x1="52.15" y1="666.05" x2="338.6" y2="666.05" stroke="#acacac" stroke-width="1.2"/>
<rect x="61.9" y="605.05" width="7.8" height="61" fill="#EFC596" stroke="#b89870" stroke-width="0.6"/>
<rect x="72.25" y="596.45" width="7.8" height="69.6" fill="#DAE445" stroke="#a8b038" stroke-width="0.6"/>
<rect x="82.6" y="596.45" width="7.8" height="69.6" fill="#C0AEDB" stroke="#9088a8" stroke-width="0.6"/>
<text x="76.15" y="675.8" font-size="8.3" font-weight="bold" stroke="#111" stroke-width="0.32" text-anchor="middle" fill="#111" >NKRD</text>
<rect x="109.65" y="626.65" width="7.8" height="39.4" fill="#EFC596" stroke="#b89870" stroke-width="0.6"/>
<rect x="120" y="621.15" width="7.8" height="44.9" fill="#DAE445" stroke="#a8b038" stroke-width="0.6"/>
<rect x="130.35" y="614.45" width="7.8" height="51.6" fill="#C0AEDB" stroke="#9088a8" stroke-width="0.6"/>
<text x="123.9" y="675.8" font-size="8.3" font-weight="bold" stroke="#111" stroke-width="0.32" text-anchor="middle" fill="#111" >PKRD</text>
<rect x="157.4" y="614.95" width="7.8" height="51.1" fill="#EFC596" stroke="#b89870" stroke-width="0.6"/>
<rect x="167.75" y="607.75" width="7.8" height="58.3" fill="#DAE445" stroke="#a8b038" stroke-width="0.6"/>
<rect x="178.1" y="604.55" width="7.8" height="61.5" fill="#C0AEDB" stroke="#9088a8" stroke-width="0.6"/>
<text x="171.65" y="675.8" font-size="8.3" font-weight="bold" stroke="#111" stroke-width="0.32" text-anchor="middle" fill="#111" >LKRD</text>
<rect x="205.15" y="641.75" width="7.8" height="24.3" fill="#EFC596" stroke="#b89870" stroke-width="0.6"/>
<rect x="215.5" y="638.45" width="7.8" height="27.6" fill="#DAE445" stroke="#a8b038" stroke-width="0.6"/>
<rect x="225.85" y="623.75" width="7.8" height="42.3" fill="#C0AEDB" stroke="#9088a8" stroke-width="0.6"/>
<text x="219.4" y="675.8" font-size="8.3" font-weight="bold" stroke="#111" stroke-width="0.32" text-anchor="middle" fill="#111" >MKRD</text>
<rect x="252.9" y="656.55" width="7.8" height="9.5" fill="#EFC596" stroke="#b89870" stroke-width="0.6"/>
<rect x="263.25" y="655.15" width="7.8" height="10.9" fill="#DAE445" stroke="#a8b038" stroke-width="0.6"/>
<rect x="273.6" y="637.45" width="7.8" height="28.6" fill="#C0AEDB" stroke="#9088a8" stroke-width="0.6"/>
<text x="267.15" y="675.8" font-size="8.3" font-weight="bold" stroke="#111" stroke-width="0.32" text-anchor="middle" fill="#111" >HKRD</text>
<rect x="321.35" y="641.75" width="7.8" height="24.3" fill="#C0AEDB" stroke="#9088a8" stroke-width="0.6"/>
<text x="314.9" y="675.8" font-size="8.3" font-weight="bold" stroke="#111" stroke-width="0.32" text-anchor="middle" fill="#111" >SKRD</text>
<text x="197.5" y="692.8" font-size="9.3" font-weight="bold" stroke="#111" stroke-width="0.32" text-anchor="middle" fill="#111" >Degree of karst rocky desertification</text>
<line x1="76.15" y1="666.05" x2="76.15" y2="667.45" stroke="#6e6e6e" stroke-width="0.7"/>
<line x1="123.9" y1="666.05" x2="123.9" y2="667.45" stroke="#6e6e6e" stroke-width="0.7"/>
<line x1="171.65" y1="666.05" x2="171.65" y2="667.45" stroke="#6e6e6e" stroke-width="0.7"/>
<line x1="219.4" y1="666.05" x2="219.4" y2="667.45" stroke="#6e6e6e" stroke-width="0.7"/>
<line x1="267.15" y1="666.05" x2="267.15" y2="667.45" stroke="#6e6e6e" stroke-width="0.7"/>
<line x1="314.9" y1="666.05" x2="314.9" y2="667.45" stroke="#6e6e6e" stroke-width="0.7"/>
<rect x="282.4" y="574.3" width="13.9" height="6" fill="#EFC596" stroke="#b89870" stroke-width="0.5"/>
<text x="298" y="579.5" font-size="6.3" text-anchor="start" fill="#1a1a1a" stroke="#1a1a1a" stroke-width="0.2">2000-Mean</text>
<rect x="282.4" y="582" width="13.9" height="6" fill="#DAE445" stroke="#a8b038" stroke-width="0.5"/>
<text x="298" y="587.2" font-size="6.3" text-anchor="start" fill="#1a1a1a" stroke="#1a1a1a" stroke-width="0.2">2013-Mean</text>
<rect x="282.4" y="589.7" width="13.9" height="6" fill="#C0AEDB" stroke="#9088a8" stroke-width="0.5"/>
<text x="298" y="594.9" font-size="6.3" text-anchor="start" fill="#1a1a1a" stroke="#1a1a1a" stroke-width="0.2">2023-Mean</text>
<line x1="373.5" y1="22.48" x2="373.5" y2="100.35" stroke="#6e6e6e" stroke-width="0.9"/>
<line x1="373.05" y1="100.35" x2="644.8" y2="100.35" stroke="#a8a8a8" stroke-width="1.1"/>
<line x1="373.5" y1="94.3" x2="376.3" y2="94.3" stroke="#6e6e6e" stroke-width="1"/>
<text x="370.1" y="96.9" font-size="7.6" font-weight="bold" stroke="#111" stroke-width="0.32" text-anchor="end" fill="#111" >0.0</text>
<line x1="373.5" y1="82.33" x2="376.3" y2="82.33" stroke="#6e6e6e" stroke-width="1"/>
<text x="370.1" y="84.93" font-size="7.6" font-weight="bold" stroke="#111" stroke-width="0.2" text-anchor="end" fill="#111">5.0x10<tspan font-size="4.9" dy="-3.4" stroke-width="0.15">4</tspan></text>
<line x1="373.5" y1="70.36" x2="376.3" y2="70.36" stroke="#6e6e6e" stroke-width="1"/>
<text x="370.1" y="72.96" font-size="7.6" font-weight="bold" stroke="#111" stroke-width="0.2" text-anchor="end" fill="#111">1.0x10<tspan font-size="4.9" dy="-3.4" stroke-width="0.15">5</tspan></text>
<line x1="373.5" y1="58.39" x2="376.3" y2="58.39" stroke="#6e6e6e" stroke-width="1"/>
<text x="370.1" y="60.99" font-size="7.6" font-weight="bold" stroke="#111" stroke-width="0.2" text-anchor="end" fill="#111">1.5x10<tspan font-size="4.9" dy="-3.4" stroke-width="0.15">5</tspan></text>
<line x1="373.5" y1="46.42" x2="376.3" y2="46.42" stroke="#6e6e6e" stroke-width="1"/>
<text x="370.1" y="49.02" font-size="7.6" font-weight="bold" stroke="#111" stroke-width="0.2" text-anchor="end" fill="#111">2.0x10<tspan font-size="4.9" dy="-3.4" stroke-width="0.15">5</tspan></text>
<line x1="373.5" y1="34.45" x2="376.3" y2="34.45" stroke="#6e6e6e" stroke-width="1"/>
<text x="370.1" y="37.05" font-size="7.6" font-weight="bold" stroke="#111" stroke-width="0.2" text-anchor="end" fill="#111">2.5x10<tspan font-size="4.9" dy="-3.4" stroke-width="0.15">5</tspan></text>
<line x1="373.5" y1="22.48" x2="376.3" y2="22.48" stroke="#6e6e6e" stroke-width="1"/>
<text x="370.1" y="25.08" font-size="7.6" font-weight="bold" stroke="#111" stroke-width="0.2" text-anchor="end" fill="#111">3.0x10<tspan font-size="4.9" dy="-3.4" stroke-width="0.15">5</tspan></text>
<line x1="395.75" y1="100.35" x2="395.75" y2="98.35" stroke="#6e6e6e" stroke-width="0.9"/>
<text x="395.75" y="111.45" font-size="8.3" font-weight="bold" stroke="#111" stroke-width="0.32" text-anchor="middle" fill="#111" >Farmland</text>
<line x1="440.95" y1="100.35" x2="440.95" y2="98.35" stroke="#6e6e6e" stroke-width="0.9"/>
<text x="440.95" y="111.45" font-size="8.3" font-weight="bold" stroke="#111" stroke-width="0.32" text-anchor="middle" fill="#111" >Forest</text>
<line x1="486.15" y1="100.35" x2="486.15" y2="98.35" stroke="#6e6e6e" stroke-width="0.9"/>
<text x="486.15" y="111.45" font-size="8.3" font-weight="bold" stroke="#111" stroke-width="0.32" text-anchor="middle" fill="#111" >Grassland</text>
<line x1="531.35" y1="100.35" x2="531.35" y2="98.35" stroke="#6e6e6e" stroke-width="0.9"/>
<text x="531.35" y="111.45" font-size="8.3" font-weight="bold" stroke="#111" stroke-width="0.32" text-anchor="middle" fill="#111" >Water</text>
<line x1="576.55" y1="100.35" x2="576.55" y2="98.35" stroke="#6e6e6e" stroke-width="0.9"/>
<text x="576.55" y="111.45" font-size="8.3" font-weight="bold" stroke="#111" stroke-width="0.32" text-anchor="middle" fill="#111" >Construction</text>
<line x1="621.75" y1="100.35" x2="621.75" y2="98.35" stroke="#6e6e6e" stroke-width="0.9"/>
<text x="621.75" y="111.45" font-size="8.3" font-weight="bold" stroke="#111" stroke-width="0.32" text-anchor="middle" fill="#111" >Unutilized</text>
<text x="513.2" y="125.05" font-size="9.3" font-weight="bold" stroke="#111" stroke-width="0.32" text-anchor="middle" fill="#111" >Land use type</text>
<polyline points="395.75,70.2 440.95,44.76 486.15,79.2 531.35,94.2 576.55,94.2 621.75,94.2" fill="none" stroke="#BA5A22" stroke-width="1.25" stroke-linejoin="round"/>
<polyline points="395.75,65.64 440.95,33.72 486.15,76.44 531.35,94.2 576.55,94.2 621.75,94.2" fill="none" stroke="#4B7B1F" stroke-width="1.25" stroke-linejoin="round"/>
<polyline points="395.75,65.4 440.95,32.76 486.15,72.84 531.35,94.2 576.55,90.12 621.75,94.2" fill="none" stroke="#4AADF5" stroke-width="1.25" stroke-linejoin="round"/>
<circle cx="395.75" cy="70.2" r="3.0" fill="url(#gBA5A22)"/>
<circle cx="440.95" cy="44.76" r="3.0" fill="url(#gBA5A22)"/>
<circle cx="486.15" cy="79.2" r="3.0" fill="url(#gBA5A22)"/>
<circle cx="531.35" cy="94.2" r="3.0" fill="url(#gBA5A22)"/>
<circle cx="576.55" cy="94.2" r="3.0" fill="url(#gBA5A22)"/>
<circle cx="621.75" cy="94.2" r="3.0" fill="url(#gBA5A22)"/>
<circle cx="395.75" cy="65.64" r="3.0" fill="url(#g4B7B1F)"/>
<circle cx="440.95" cy="33.72" r="3.0" fill="url(#g4B7B1F)"/>
<circle cx="486.15" cy="76.44" r="3.0" fill="url(#g4B7B1F)"/>
<circle cx="531.35" cy="94.2" r="3.0" fill="url(#g4B7B1F)"/>
<circle cx="576.55" cy="94.2" r="3.0" fill="url(#g4B7B1F)"/>
<circle cx="621.75" cy="94.2" r="3.0" fill="url(#g4B7B1F)"/>
<circle cx="395.75" cy="65.4" r="3.0" fill="url(#g4AADF5)"/>
<circle cx="440.95" cy="32.76" r="3.0" fill="url(#g4AADF5)"/>
<circle cx="486.15" cy="72.84" r="3.0" fill="url(#g4AADF5)"/>
<circle cx="531.35" cy="94.2" r="3.0" fill="url(#g4AADF5)"/>
<circle cx="576.55" cy="90.12" r="3.0" fill="url(#g4AADF5)"/>
<circle cx="621.75" cy="94.2" r="3.0" fill="url(#g4AADF5)"/>
<line x1="580.2" y1="21.9" x2="595.4" y2="21.9" stroke="#BA5A22" stroke-width="1.25"/>
<circle cx="587.8" cy="21.9" r="3.0" fill="url(#gBA5A22)"/>
<text x="596.9" y="24" font-size="6.3" text-anchor="start" fill="#1a1a1a" stroke="#1a1a1a" stroke-width="0.2">2000-Sum</text>
<line x1="580.2" y1="29.5" x2="595.4" y2="29.5" stroke="#4B7B1F" stroke-width="1.25"/>
<circle cx="587.8" cy="29.5" r="3.0" fill="url(#g4B7B1F)"/>
<text x="596.9" y="31.6" font-size="6.3" text-anchor="start" fill="#1a1a1a" stroke="#1a1a1a" stroke-width="0.2">2013-Sum</text>
<line x1="580.2" y1="37.1" x2="595.4" y2="37.1" stroke="#4AADF5" stroke-width="1.25"/>
<circle cx="587.8" cy="37.1" r="3.0" fill="url(#g4AADF5)"/>
<text x="596.9" y="39.2" font-size="6.3" text-anchor="start" fill="#1a1a1a" stroke="#1a1a1a" stroke-width="0.2">2023-Sum</text>
<line x1="373.5" y1="163.42" x2="373.5" y2="240.2" stroke="#6e6e6e" stroke-width="0.9"/>
<line x1="373.05" y1="240.2" x2="644.8" y2="240.2" stroke="#a8a8a8" stroke-width="1.1"/>
<line x1="373.5" y1="232.3" x2="376.3" y2="232.3" stroke="#6e6e6e" stroke-width="1"/>
<text x="370.1" y="234.9" font-size="7.6" font-weight="bold" stroke="#111" stroke-width="0.32" text-anchor="end" fill="#111" >0.00</text>
<line x1="373.5" y1="222.46" x2="376.3" y2="222.46" stroke="#6e6e6e" stroke-width="1"/>
<text x="370.1" y="225.06" font-size="7.6" font-weight="bold" stroke="#111" stroke-width="0.2" text-anchor="end" fill="#111">2.50x10<tspan font-size="4.9" dy="-3.4" stroke-width="0.15">4</tspan></text>
<line x1="373.5" y1="212.62" x2="376.3" y2="212.62" stroke="#6e6e6e" stroke-width="1"/>
<text x="370.1" y="215.22" font-size="7.6" font-weight="bold" stroke="#111" stroke-width="0.2" text-anchor="end" fill="#111">5.00x10<tspan font-size="4.9" dy="-3.4" stroke-width="0.15">4</tspan></text>
<line x1="373.5" y1="202.78" x2="376.3" y2="202.78" stroke="#6e6e6e" stroke-width="1"/>
<text x="370.1" y="205.38" font-size="7.6" font-weight="bold" stroke="#111" stroke-width="0.2" text-anchor="end" fill="#111">7.50x10<tspan font-size="4.9" dy="-3.4" stroke-width="0.15">4</tspan></text>
<line x1="373.5" y1="192.94" x2="376.3" y2="192.94" stroke="#6e6e6e" stroke-width="1"/>
<text x="370.1" y="195.54" font-size="7.6" font-weight="bold" stroke="#111" stroke-width="0.2" text-anchor="end" fill="#111">1.00x10<tspan font-size="4.9" dy="-3.4" stroke-width="0.15">5</tspan></text>
<line x1="373.5" y1="183.1" x2="376.3" y2="183.1" stroke="#6e6e6e" stroke-width="1"/>
<text x="370.1" y="185.7" font-size="7.6" font-weight="bold" stroke="#111" stroke-width="0.2" text-anchor="end" fill="#111">1.25x10<tspan font-size="4.9" dy="-3.4" stroke-width="0.15">5</tspan></text>
<line x1="373.5" y1="173.26" x2="376.3" y2="173.26" stroke="#6e6e6e" stroke-width="1"/>
<text x="370.1" y="175.86" font-size="7.6" font-weight="bold" stroke="#111" stroke-width="0.2" text-anchor="end" fill="#111">1.50x10<tspan font-size="4.9" dy="-3.4" stroke-width="0.15">5</tspan></text>
<line x1="373.5" y1="163.42" x2="376.3" y2="163.42" stroke="#6e6e6e" stroke-width="1"/>
<text x="370.1" y="166.02" font-size="7.6" font-weight="bold" stroke="#111" stroke-width="0.2" text-anchor="end" fill="#111">1.75x10<tspan font-size="4.9" dy="-3.4" stroke-width="0.15">5</tspan></text>
<line x1="395.75" y1="240.2" x2="395.75" y2="238.2" stroke="#6e6e6e" stroke-width="0.9"/>
<text x="395.75" y="251.7" font-size="8.3" font-weight="bold" stroke="#111" stroke-width="0.32" text-anchor="middle" fill="#111" >&lt;5</text>
<line x1="440.95" y1="240.2" x2="440.95" y2="238.2" stroke="#6e6e6e" stroke-width="0.9"/>
<text x="440.95" y="251.7" font-size="8.3" font-weight="bold" stroke="#111" stroke-width="0.32" text-anchor="middle" fill="#111" >5-8</text>
<line x1="486.15" y1="240.2" x2="486.15" y2="238.2" stroke="#6e6e6e" stroke-width="0.9"/>
<text x="486.15" y="251.7" font-size="8.3" font-weight="bold" stroke="#111" stroke-width="0.32" text-anchor="middle" fill="#111" >8-15</text>
<line x1="531.35" y1="240.2" x2="531.35" y2="238.2" stroke="#6e6e6e" stroke-width="0.9"/>
<text x="531.35" y="251.7" font-size="8.3" font-weight="bold" stroke="#111" stroke-width="0.32" text-anchor="middle" fill="#111" >15-25</text>
<line x1="576.55" y1="240.2" x2="576.55" y2="238.2" stroke="#6e6e6e" stroke-width="0.9"/>
<text x="576.55" y="251.7" font-size="8.3" font-weight="bold" stroke="#111" stroke-width="0.32" text-anchor="middle" fill="#111" >25-35</text>
<line x1="621.75" y1="240.2" x2="621.75" y2="238.2" stroke="#6e6e6e" stroke-width="0.9"/>
<text x="621.75" y="251.7" font-size="8.3" font-weight="bold" stroke="#111" stroke-width="0.32" text-anchor="middle" fill="#111" >&gt;35</text>
<polyline points="395.75,188.81 440.95,200.06 486.15,183.98 531.35,210.8 576.55,229.46 621.75,232.2" fill="none" stroke="#E8403C" stroke-width="1.25" stroke-linejoin="round"/>
<polyline points="395.75,180.85 440.95,193 486.15,173.79 531.35,206.6 576.55,228.87 621.75,232.2" fill="none" stroke="#383838" stroke-width="1.25" stroke-linejoin="round"/>
<polyline points="395.75,176.61 440.95,189.86 486.15,169.09 531.35,204.76 576.55,228.28 621.75,232.2" fill="none" stroke="#3A72E6" stroke-width="1.25" stroke-linejoin="round"/>
<circle cx="395.75" cy="188.81" r="3.0" fill="url(#gE8403C)"/>
<circle cx="440.95" cy="200.06" r="3.0" fill="url(#gE8403C)"/>
<circle cx="486.15" cy="183.98" r="3.0" fill="url(#gE8403C)"/>
<circle cx="531.35" cy="210.8" r="3.0" fill="url(#gE8403C)"/>
<circle cx="576.55" cy="229.46" r="3.0" fill="url(#gE8403C)"/>
<circle cx="621.75" cy="232.2" r="3.0" fill="url(#gE8403C)"/>
<circle cx="395.75" cy="180.85" r="3.0" fill="url(#g383838)"/>
<circle cx="440.95" cy="193" r="3.0" fill="url(#g383838)"/>
<circle cx="486.15" cy="173.79" r="3.0" fill="url(#g383838)"/>
<circle cx="531.35" cy="206.6" r="3.0" fill="url(#g383838)"/>
<circle cx="576.55" cy="228.87" r="3.0" fill="url(#g383838)"/>
<circle cx="621.75" cy="232.2" r="3.0" fill="url(#g383838)"/>
<circle cx="395.75" cy="176.61" r="3.0" fill="url(#g3A72E6)"/>
<circle cx="440.95" cy="189.86" r="3.0" fill="url(#g3A72E6)"/>
<circle cx="486.15" cy="169.09" r="3.0" fill="url(#g3A72E6)"/>
<circle cx="531.35" cy="204.76" r="3.0" fill="url(#g3A72E6)"/>
<circle cx="576.55" cy="228.28" r="3.0" fill="url(#g3A72E6)"/>
<circle cx="621.75" cy="232.2" r="3.0" fill="url(#g3A72E6)"/>
<line x1="579.1" y1="154" x2="594.3" y2="154" stroke="#E8403C" stroke-width="1.25"/>
<circle cx="586.7" cy="154" r="3.0" fill="url(#gE8403C)"/>
<text x="595.8" y="156.1" font-size="6.3" text-anchor="start" fill="#1a1a1a" stroke="#1a1a1a" stroke-width="0.2">2000-Sum</text>
<line x1="579.1" y1="161.6" x2="594.3" y2="161.6" stroke="#383838" stroke-width="1.25"/>
<circle cx="586.7" cy="161.6" r="3.0" fill="url(#g383838)"/>
<text x="595.8" y="163.7" font-size="6.3" text-anchor="start" fill="#1a1a1a" stroke="#1a1a1a" stroke-width="0.2">2013-Sum</text>
<line x1="579.1" y1="169.2" x2="594.3" y2="169.2" stroke="#3A72E6" stroke-width="1.25"/>
<circle cx="586.7" cy="169.2" r="3.0" fill="url(#g3A72E6)"/>
<text x="595.8" y="171.3" font-size="6.3" text-anchor="start" fill="#1a1a1a" stroke="#1a1a1a" stroke-width="0.2">2023-Sum</text>
<line x1="373.5" y1="305.58" x2="373.5" y2="384" stroke="#6e6e6e" stroke-width="0.9"/>
<line x1="373.05" y1="384" x2="644.8" y2="384" stroke="#a8a8a8" stroke-width="1.1"/>
<line x1="373.5" y1="383.7" x2="376.3" y2="383.7" stroke="#6e6e6e" stroke-width="1"/>
<text x="370.1" y="386.3" font-size="7.6" font-weight="bold" stroke="#111" stroke-width="0.32" text-anchor="end" fill="#111" >0.0</text>
<line x1="373.5" y1="372.54" x2="376.3" y2="372.54" stroke="#6e6e6e" stroke-width="1"/>
<text x="370.1" y="375.14" font-size="7.6" font-weight="bold" stroke="#111" stroke-width="0.2" text-anchor="end" fill="#111">3.0x10<tspan font-size="4.9" dy="-3.4" stroke-width="0.15">4</tspan></text>
<line x1="373.5" y1="361.38" x2="376.3" y2="361.38" stroke="#6e6e6e" stroke-width="1"/>
<text x="370.1" y="363.98" font-size="7.6" font-weight="bold" stroke="#111" stroke-width="0.2" text-anchor="end" fill="#111">6.0x10<tspan font-size="4.9" dy="-3.4" stroke-width="0.15">4</tspan></text>
<line x1="373.5" y1="350.22" x2="376.3" y2="350.22" stroke="#6e6e6e" stroke-width="1"/>
<text x="370.1" y="352.82" font-size="7.6" font-weight="bold" stroke="#111" stroke-width="0.2" text-anchor="end" fill="#111">9.0x10<tspan font-size="4.9" dy="-3.4" stroke-width="0.15">4</tspan></text>
<line x1="373.5" y1="339.06" x2="376.3" y2="339.06" stroke="#6e6e6e" stroke-width="1"/>
<text x="370.1" y="341.66" font-size="7.6" font-weight="bold" stroke="#111" stroke-width="0.2" text-anchor="end" fill="#111">1.2x10<tspan font-size="4.9" dy="-3.4" stroke-width="0.15">5</tspan></text>
<line x1="373.5" y1="327.9" x2="376.3" y2="327.9" stroke="#6e6e6e" stroke-width="1"/>
<text x="370.1" y="330.5" font-size="7.6" font-weight="bold" stroke="#111" stroke-width="0.2" text-anchor="end" fill="#111">1.5x10<tspan font-size="4.9" dy="-3.4" stroke-width="0.15">5</tspan></text>
<line x1="373.5" y1="316.74" x2="376.3" y2="316.74" stroke="#6e6e6e" stroke-width="1"/>
<text x="370.1" y="319.34" font-size="7.6" font-weight="bold" stroke="#111" stroke-width="0.2" text-anchor="end" fill="#111">1.8x10<tspan font-size="4.9" dy="-3.4" stroke-width="0.15">5</tspan></text>
<line x1="373.5" y1="305.58" x2="376.3" y2="305.58" stroke="#6e6e6e" stroke-width="1"/>
<text x="370.1" y="308.18" font-size="7.6" font-weight="bold" stroke="#111" stroke-width="0.2" text-anchor="end" fill="#111">2.1x10<tspan font-size="4.9" dy="-3.4" stroke-width="0.15">5</tspan></text>
<line x1="395.75" y1="384" x2="395.75" y2="382" stroke="#6e6e6e" stroke-width="0.9"/>
<text x="395.75" y="394.2" font-size="8.3" font-weight="bold" stroke="#111" stroke-width="0.32" text-anchor="middle" fill="#111" >&lt;500</text>
<line x1="440.95" y1="384" x2="440.95" y2="382" stroke="#6e6e6e" stroke-width="0.9"/>
<text x="440.95" y="394.2" font-size="8.3" font-weight="bold" stroke="#111" stroke-width="0.32" text-anchor="middle" fill="#111" >500-1000</text>
<line x1="486.15" y1="384" x2="486.15" y2="382" stroke="#6e6e6e" stroke-width="0.9"/>
<text x="486.15" y="394.2" font-size="8.3" font-weight="bold" stroke="#111" stroke-width="0.32" text-anchor="middle" fill="#111" >1000-1200</text>
<line x1="531.35" y1="384" x2="531.35" y2="382" stroke="#6e6e6e" stroke-width="0.9"/>
<text x="531.35" y="394.2" font-size="8.3" font-weight="bold" stroke="#111" stroke-width="0.32" text-anchor="middle" fill="#111" >1200-1500</text>
<line x1="576.55" y1="384" x2="576.55" y2="382" stroke="#6e6e6e" stroke-width="0.9"/>
<text x="576.55" y="394.2" font-size="8.3" font-weight="bold" stroke="#111" stroke-width="0.32" text-anchor="middle" fill="#111" >1500-2000</text>
<line x1="621.75" y1="384" x2="621.75" y2="382" stroke="#6e6e6e" stroke-width="0.9"/>
<text x="621.75" y="394.2" font-size="8.3" font-weight="bold" stroke="#111" stroke-width="0.32" text-anchor="middle" fill="#111" >&gt;2000</text>
<text x="516.2" y="407.3" font-size="9.3" font-weight="bold" stroke="#111" stroke-width="0.32" text-anchor="middle" fill="#111" >Altitude (m)</text>
<polyline points="395.75,376.88 440.95,325.93 486.15,359.65 531.35,354.4 576.55,367.51 621.75,378.19" fill="none" stroke="#EE6E38" stroke-width="1.25" stroke-linejoin="round"/>
<polyline points="395.75,376.51 440.95,315.44 486.15,354.78 531.35,348.03 576.55,363.21 621.75,376.51" fill="none" stroke="#4C7DB0" stroke-width="1.25" stroke-linejoin="round"/>
<polyline points="395.75,375.38 440.95,312.06 486.15,352.9 531.35,345.78 576.55,360.58 621.75,374.82" fill="none" stroke="#3A8A40" stroke-width="1.25" stroke-linejoin="round"/>
<circle cx="395.75" cy="376.88" r="3.0" fill="url(#gE8832E)"/>
<circle cx="440.95" cy="325.93" r="3.0" fill="url(#gE8832E)"/>
<circle cx="486.15" cy="359.65" r="3.0" fill="url(#gE8832E)"/>
<circle cx="531.35" cy="354.4" r="3.0" fill="url(#gE8832E)"/>
<circle cx="576.55" cy="367.51" r="3.0" fill="url(#gE8832E)"/>
<circle cx="621.75" cy="378.19" r="3.0" fill="url(#gE8832E)"/>
<circle cx="395.75" cy="376.51" r="3.0" fill="url(#g3A8094)"/>
<circle cx="440.95" cy="315.44" r="3.0" fill="url(#g3A8094)"/>
<circle cx="486.15" cy="354.78" r="3.0" fill="url(#g3A8094)"/>
<circle cx="531.35" cy="348.03" r="3.0" fill="url(#g3A8094)"/>
<circle cx="576.55" cy="363.21" r="3.0" fill="url(#g3A8094)"/>
<circle cx="621.75" cy="376.51" r="3.0" fill="url(#g3A8094)"/>
<circle cx="395.75" cy="375.38" r="3.0" fill="url(#g40A232)"/>
<circle cx="440.95" cy="312.06" r="3.0" fill="url(#g40A232)"/>
<circle cx="486.15" cy="352.9" r="3.0" fill="url(#g40A232)"/>
<circle cx="531.35" cy="345.78" r="3.0" fill="url(#g40A232)"/>
<circle cx="576.55" cy="360.58" r="3.0" fill="url(#g40A232)"/>
<circle cx="621.75" cy="374.82" r="3.0" fill="url(#g40A232)"/>
<line x1="580.1" y1="290.3" x2="595.3" y2="290.3" stroke="#EE6E38" stroke-width="1.25"/>
<circle cx="587.7" cy="290.3" r="3.0" fill="url(#gE8832E)"/>
<text x="596.8" y="292.4" font-size="6.3" text-anchor="start" fill="#1a1a1a" stroke="#1a1a1a" stroke-width="0.2">2000-Sum</text>
<line x1="580.1" y1="297.9" x2="595.3" y2="297.9" stroke="#4C7DB0" stroke-width="1.25"/>
<circle cx="587.7" cy="297.9" r="3.0" fill="url(#g3A8094)"/>
<text x="596.8" y="300" font-size="6.3" text-anchor="start" fill="#1a1a1a" stroke="#1a1a1a" stroke-width="0.2">2013-Sum</text>
<line x1="580.1" y1="305.5" x2="595.3" y2="305.5" stroke="#3A8A40" stroke-width="1.25"/>
<circle cx="587.7" cy="305.5" r="3.0" fill="url(#g40A232)"/>
<text x="596.8" y="307.6" font-size="6.3" text-anchor="start" fill="#1a1a1a" stroke="#1a1a1a" stroke-width="0.2">2023-Sum</text>
<line x1="373.5" y1="440.4" x2="373.5" y2="519.05" stroke="#6e6e6e" stroke-width="0.9"/>
<line x1="373.05" y1="519.05" x2="644.8" y2="519.05" stroke="#a8a8a8" stroke-width="1.1"/>
<line x1="373.5" y1="511.3" x2="376.3" y2="511.3" stroke="#6e6e6e" stroke-width="1"/>
<text x="370.1" y="513.9" font-size="7.6" font-weight="bold" stroke="#111" stroke-width="0.32" text-anchor="end" fill="#111" >0.0</text>
<line x1="373.5" y1="499.1" x2="376.3" y2="499.1" stroke="#6e6e6e" stroke-width="1"/>
<text x="370.1" y="501.7" font-size="7.6" font-weight="bold" stroke="#111" stroke-width="0.2" text-anchor="end" fill="#111">5.0x10<tspan font-size="4.9" dy="-3.4" stroke-width="0.15">4</tspan></text>
<line x1="373.5" y1="486.9" x2="376.3" y2="486.9" stroke="#6e6e6e" stroke-width="1"/>
<text x="370.1" y="489.5" font-size="7.6" font-weight="bold" stroke="#111" stroke-width="0.2" text-anchor="end" fill="#111">1.0x10<tspan font-size="4.9" dy="-3.4" stroke-width="0.15">5</tspan></text>
<line x1="373.5" y1="474.7" x2="376.3" y2="474.7" stroke="#6e6e6e" stroke-width="1"/>
<text x="370.1" y="477.3" font-size="7.6" font-weight="bold" stroke="#111" stroke-width="0.2" text-anchor="end" fill="#111">1.5x10<tspan font-size="4.9" dy="-3.4" stroke-width="0.15">5</tspan></text>
<line x1="373.5" y1="462.5" x2="376.3" y2="462.5" stroke="#6e6e6e" stroke-width="1"/>
<text x="370.1" y="465.1" font-size="7.6" font-weight="bold" stroke="#111" stroke-width="0.2" text-anchor="end" fill="#111">2.0x10<tspan font-size="4.9" dy="-3.4" stroke-width="0.15">5</tspan></text>
<line x1="373.5" y1="450.3" x2="376.3" y2="450.3" stroke="#6e6e6e" stroke-width="1"/>
<text x="370.1" y="452.9" font-size="7.6" font-weight="bold" stroke="#111" stroke-width="0.2" text-anchor="end" fill="#111">2.5x10<tspan font-size="4.9" dy="-3.4" stroke-width="0.15">5</tspan></text>
<line x1="400.3" y1="519.05" x2="400.3" y2="517.05" stroke="#6e6e6e" stroke-width="0.9"/>
<text x="400.3" y="528.3" font-size="8.3" font-weight="bold" stroke="#111" stroke-width="0.32" text-anchor="middle" fill="#111" >&lt;1000</text>
<line x1="454.5" y1="519.05" x2="454.5" y2="517.05" stroke="#6e6e6e" stroke-width="0.9"/>
<text x="454.5" y="528.3" font-size="8.3" font-weight="bold" stroke="#111" stroke-width="0.32" text-anchor="middle" fill="#111" >1000-1100</text>
<line x1="508.7" y1="519.05" x2="508.7" y2="517.05" stroke="#6e6e6e" stroke-width="0.9"/>
<text x="508.7" y="528.3" font-size="8.3" font-weight="bold" stroke="#111" stroke-width="0.32" text-anchor="middle" fill="#111" >1100-1200</text>
<line x1="562.9" y1="519.05" x2="562.9" y2="517.05" stroke="#6e6e6e" stroke-width="0.9"/>
<text x="562.9" y="528.3" font-size="8.3" font-weight="bold" stroke="#111" stroke-width="0.32" text-anchor="middle" fill="#111" >1200-1300</text>
<line x1="617.1" y1="519.05" x2="617.1" y2="517.05" stroke="#6e6e6e" stroke-width="0.9"/>
<text x="617.1" y="528.3" font-size="8.3" font-weight="bold" stroke="#111" stroke-width="0.32" text-anchor="middle" fill="#111" >&gt;1300</text>
<text x="520.6" y="543" font-size="9.3" font-weight="bold" stroke="#111" stroke-width="0.32" text-anchor="middle" fill="#111" >Precipitation (mm)</text>
<polyline points="400.3,511.5 454.5,510.4 508.7,449.81 562.9,486.78 617.1,508.81" fill="none" stroke="#E8C060" stroke-width="1.25" stroke-linejoin="round"/>
<polyline points="400.3,491.43 454.5,462.54 508.7,496.81 562.9,501.22 617.1,509.05" fill="none" stroke="#A8A8A8" stroke-width="1.25" stroke-linejoin="round"/>
<polyline points="400.3,487.26 454.5,445.89 508.7,484.57 562.9,497.3 617.1,511.5" fill="none" stroke="#7446A8" stroke-width="1.25" stroke-linejoin="round"/>
<circle cx="400.3" cy="511.5" r="3.0" fill="url(#gE4C060)"/>
<circle cx="454.5" cy="510.4" r="3.0" fill="url(#gE4C060)"/>
<circle cx="508.7" cy="449.81" r="3.0" fill="url(#gE4C060)"/>
<circle cx="562.9" cy="486.78" r="3.0" fill="url(#gE4C060)"/>
<circle cx="617.1" cy="508.81" r="3.0" fill="url(#gE4C060)"/>
<circle cx="400.3" cy="491.43" r="3.0" fill="url(#gD0D0C8)"/>
<circle cx="454.5" cy="462.54" r="3.0" fill="url(#gD0D0C8)"/>
<circle cx="508.7" cy="496.81" r="3.0" fill="url(#gD0D0C8)"/>
<circle cx="562.9" cy="501.22" r="3.0" fill="url(#gD0D0C8)"/>
<circle cx="617.1" cy="509.05" r="3.0" fill="url(#gD0D0C8)"/>
<circle cx="400.3" cy="487.26" r="3.0" fill="url(#g7A4EAE)"/>
<circle cx="454.5" cy="445.89" r="3.0" fill="url(#g7A4EAE)"/>
<circle cx="508.7" cy="484.57" r="3.0" fill="url(#g7A4EAE)"/>
<circle cx="562.9" cy="497.3" r="3.0" fill="url(#g7A4EAE)"/>
<circle cx="617.1" cy="511.5" r="3.0" fill="url(#g7A4EAE)"/>
<line x1="568.5" y1="427.9" x2="583.7" y2="427.9" stroke="#E8C060" stroke-width="1.25"/>
<circle cx="576.1" cy="427.9" r="3.0" fill="url(#gE4C060)"/>
<text x="585.2" y="430" font-size="6.3" text-anchor="start" fill="#1a1a1a" stroke="#1a1a1a" stroke-width="0.2">2000-Sum</text>
<line x1="568.5" y1="435.5" x2="583.7" y2="435.5" stroke="#A8A8A8" stroke-width="1.25"/>
<circle cx="576.1" cy="435.5" r="3.0" fill="url(#gD0D0C8)"/>
<text x="585.2" y="437.6" font-size="6.3" text-anchor="start" fill="#1a1a1a" stroke="#1a1a1a" stroke-width="0.2">2013-Sum</text>
<line x1="568.5" y1="443.1" x2="583.7" y2="443.1" stroke="#7446A8" stroke-width="1.25"/>
<circle cx="576.1" cy="443.1" r="3.0" fill="url(#g7A4EAE)"/>
<text x="585.2" y="445.2" font-size="6.3" text-anchor="start" fill="#1a1a1a" stroke="#1a1a1a" stroke-width="0.2">2023-Sum</text>
<line x1="373.5" y1="589.98" x2="373.5" y2="666.3" stroke="#6e6e6e" stroke-width="0.9"/>
<line x1="373.05" y1="666.3" x2="644.8" y2="666.3" stroke="#a8a8a8" stroke-width="1.1"/>
<line x1="373.5" y1="658.3" x2="376.3" y2="658.3" stroke="#6e6e6e" stroke-width="1"/>
<text x="370.1" y="660.9" font-size="7.6" font-weight="bold" stroke="#111" stroke-width="0.32" text-anchor="end" fill="#111" >0.00</text>
<line x1="373.5" y1="649.76" x2="376.3" y2="649.76" stroke="#6e6e6e" stroke-width="1"/>
<text x="370.1" y="652.36" font-size="7.6" font-weight="bold" stroke="#111" stroke-width="0.2" text-anchor="end" fill="#111">5.50x10<tspan font-size="4.9" dy="-3.4" stroke-width="0.15">4</tspan></text>
<line x1="373.5" y1="641.22" x2="376.3" y2="641.22" stroke="#6e6e6e" stroke-width="1"/>
<text x="370.1" y="643.82" font-size="7.6" font-weight="bold" stroke="#111" stroke-width="0.2" text-anchor="end" fill="#111">1.10x10<tspan font-size="4.9" dy="-3.4" stroke-width="0.15">5</tspan></text>
<line x1="373.5" y1="632.68" x2="376.3" y2="632.68" stroke="#6e6e6e" stroke-width="1"/>
<text x="370.1" y="635.28" font-size="7.6" font-weight="bold" stroke="#111" stroke-width="0.2" text-anchor="end" fill="#111">1.65x10<tspan font-size="4.9" dy="-3.4" stroke-width="0.15">5</tspan></text>
<line x1="373.5" y1="624.14" x2="376.3" y2="624.14" stroke="#6e6e6e" stroke-width="1"/>
<text x="370.1" y="626.74" font-size="7.6" font-weight="bold" stroke="#111" stroke-width="0.2" text-anchor="end" fill="#111">2.20x10<tspan font-size="4.9" dy="-3.4" stroke-width="0.15">5</tspan></text>
<line x1="373.5" y1="615.6" x2="376.3" y2="615.6" stroke="#6e6e6e" stroke-width="1"/>
<text x="370.1" y="618.2" font-size="7.6" font-weight="bold" stroke="#111" stroke-width="0.2" text-anchor="end" fill="#111">2.75x10<tspan font-size="4.9" dy="-3.4" stroke-width="0.15">5</tspan></text>
<line x1="373.5" y1="607.06" x2="376.3" y2="607.06" stroke="#6e6e6e" stroke-width="1"/>
<text x="370.1" y="609.66" font-size="7.6" font-weight="bold" stroke="#111" stroke-width="0.2" text-anchor="end" fill="#111">3.30x10<tspan font-size="4.9" dy="-3.4" stroke-width="0.15">5</tspan></text>
<line x1="373.5" y1="598.52" x2="376.3" y2="598.52" stroke="#6e6e6e" stroke-width="1"/>
<text x="370.1" y="601.12" font-size="7.6" font-weight="bold" stroke="#111" stroke-width="0.2" text-anchor="end" fill="#111">3.85x10<tspan font-size="4.9" dy="-3.4" stroke-width="0.15">5</tspan></text>
<line x1="373.5" y1="589.98" x2="376.3" y2="589.98" stroke="#6e6e6e" stroke-width="1"/>
<text x="370.1" y="592.58" font-size="7.6" font-weight="bold" stroke="#111" stroke-width="0.2" text-anchor="end" fill="#111">4.40x10<tspan font-size="4.9" dy="-3.4" stroke-width="0.15">5</tspan></text>
<line x1="395.75" y1="666.3" x2="395.75" y2="664.3" stroke="#6e6e6e" stroke-width="0.9"/>
<text x="395.75" y="677.4" font-size="8.3" font-weight="bold" stroke="#111" stroke-width="0.32" text-anchor="middle" fill="#111" >NKRD</text>
<line x1="440.95" y1="666.3" x2="440.95" y2="664.3" stroke="#6e6e6e" stroke-width="0.9"/>
<text x="440.95" y="677.4" font-size="8.3" font-weight="bold" stroke="#111" stroke-width="0.32" text-anchor="middle" fill="#111" >PKRD</text>
<line x1="486.15" y1="666.3" x2="486.15" y2="664.3" stroke="#6e6e6e" stroke-width="0.9"/>
<text x="486.15" y="677.4" font-size="8.3" font-weight="bold" stroke="#111" stroke-width="0.32" text-anchor="middle" fill="#111" >LKRD</text>
<line x1="531.35" y1="666.3" x2="531.35" y2="664.3" stroke="#6e6e6e" stroke-width="0.9"/>
<text x="531.35" y="677.4" font-size="8.3" font-weight="bold" stroke="#111" stroke-width="0.32" text-anchor="middle" fill="#111" >MKRD</text>
<line x1="576.55" y1="666.3" x2="576.55" y2="664.3" stroke="#6e6e6e" stroke-width="0.9"/>
<text x="576.55" y="677.4" font-size="8.3" font-weight="bold" stroke="#111" stroke-width="0.32" text-anchor="middle" fill="#111" >HKRD</text>
<line x1="621.75" y1="666.3" x2="621.75" y2="664.3" stroke="#6e6e6e" stroke-width="0.9"/>
<text x="621.75" y="677.4" font-size="8.3" font-weight="bold" stroke="#111" stroke-width="0.32" text-anchor="middle" fill="#111" >SKRD</text>
<text x="521.6" y="692.3" font-size="9.3" font-weight="bold" stroke="#111" stroke-width="0.32" text-anchor="middle" fill="#111" >Degree of karst rocky desertification</text>
<polyline points="395.75,639.31 440.95,649.9 486.15,628.73 531.35,657.37 576.55,657.83 621.75,658.3" fill="none" stroke="#EE9068" stroke-width="1.05" stroke-linejoin="round"/>
<polyline points="395.75,620.95 440.95,651.92 486.15,632.15 531.35,657.37 576.55,657.83 621.75,658.3" fill="none" stroke="#D8E640" stroke-width="1.05" stroke-linejoin="round"/>
<polyline points="395.75,602.58 440.95,655.19 486.15,643.2 531.35,657.37 576.55,657.83 621.75,658.3" fill="none" stroke="#9A70C8" stroke-width="1.05" stroke-linejoin="round"/>
<circle cx="395.75" cy="639.31" r="3.0" fill="url(#gEE9068)"/>
<circle cx="440.95" cy="649.9" r="3.0" fill="url(#gEE9068)"/>
<circle cx="486.15" cy="628.73" r="3.0" fill="url(#gEE9068)"/>
<circle cx="531.35" cy="657.37" r="3.0" fill="url(#gEE9068)"/>
<circle cx="576.55" cy="657.83" r="3.0" fill="url(#gEE9068)"/>
<circle cx="621.75" cy="658.3" r="3.0" fill="url(#gEE9068)"/>
<circle cx="395.75" cy="620.95" r="3.0" fill="url(#gD8E640)"/>
<circle cx="440.95" cy="651.92" r="3.0" fill="url(#gD8E640)"/>
<circle cx="486.15" cy="632.15" r="3.0" fill="url(#gD8E640)"/>
<circle cx="531.35" cy="657.37" r="3.0" fill="url(#gD8E640)"/>
<circle cx="576.55" cy="657.83" r="3.0" fill="url(#gD8E640)"/>
<circle cx="621.75" cy="658.3" r="3.0" fill="url(#gD8E640)"/>
<circle cx="395.75" cy="602.58" r="3.0" fill="url(#g9A70C8)"/>
<circle cx="440.95" cy="655.19" r="3.0" fill="url(#g9A70C8)"/>
<circle cx="486.15" cy="643.2" r="3.0" fill="url(#g9A70C8)"/>
<circle cx="531.35" cy="657.37" r="3.0" fill="url(#g9A70C8)"/>
<circle cx="576.55" cy="657.83" r="3.0" fill="url(#g9A70C8)"/>
<circle cx="621.75" cy="658.3" r="3.0" fill="url(#g9A70C8)"/>
<line x1="578.4" y1="580.3" x2="593.6" y2="580.3" stroke="#EE9068" stroke-width="1.25"/>
<circle cx="586" cy="580.3" r="3.0" fill="url(#gEE9068)"/>
<text x="595.1" y="582.4" font-size="6.3" text-anchor="start" fill="#1a1a1a" stroke="#1a1a1a" stroke-width="0.2">2000-Sum</text>
<line x1="578.4" y1="587.9" x2="593.6" y2="587.9" stroke="#D8E640" stroke-width="1.25"/>
<circle cx="586" cy="587.9" r="3.0" fill="url(#gD8E640)"/>
<text x="595.1" y="590" font-size="6.3" text-anchor="start" fill="#1a1a1a" stroke="#1a1a1a" stroke-width="0.2">2013-Sum</text>
<line x1="578.4" y1="595.5" x2="593.6" y2="595.5" stroke="#9A70C8" stroke-width="1.25"/>
<circle cx="586" cy="595.5" r="3.0" fill="url(#g9A70C8)"/>
<text x="595.1" y="597.6" font-size="6.3" text-anchor="start" fill="#1a1a1a" stroke="#1a1a1a" stroke-width="0.2">2023-Sum</text>
<text x="178" y="263.8" font-size="9.3" font-weight="bold" stroke="#111" stroke-width="0.32" text-anchor="start" fill="#111" >Slope</text>
<path d="M209.9,258 C207.3,260 207.3,262.4 209.9,264.4" fill="none" stroke="#222" stroke-width="0.85"/>
<path d="M218.1,258 C220.7,260 220.7,262.4 218.1,264.4" fill="none" stroke="#222" stroke-width="0.85"/>
<circle cx="214.2" cy="259.6" r="1.4" fill="none" stroke="#222" stroke-width="0.8"/>
<text x="493.9" y="265" font-size="9.3" font-weight="bold" stroke="#111" stroke-width="0.32" text-anchor="start" fill="#111" >Slope</text>
<path d="M526,258.7 C523.4,260.7 523.4,263.1 526,265.1" fill="none" stroke="#222" stroke-width="0.85"/>
<path d="M534.4,258.7 C537,260.7 537,263.1 534.4,265.1" fill="none" stroke="#222" stroke-width="0.85"/>
<circle cx="530" cy="260.5" r="1.4" fill="none" stroke="#222" stroke-width="0.8"/>
<text x="8.1" y="15.1" font-size="20.9" text-anchor="start" fill="#111" >(a)</text>
<text x="9.45" y="155.6" font-size="20.9" text-anchor="start" fill="#111" >(b)</text>
<text x="9.55" y="292.3" font-size="20.9" text-anchor="start" fill="#111" >(c)</text>
<text x="8.1" y="428.3" font-size="20.9" text-anchor="start" fill="#111" >(d)</text>
<text x="8.1" y="573" font-size="20.9" text-anchor="start" fill="#111" >(e)</text>
<text transform="translate(12.75,343) rotate(-90)" font-size="16" text-anchor="middle" fill="#111">SC (Mean)</text>
<text transform="translate(680.55,346.25) rotate(-90)" font-size="16" text-anchor="middle" fill="#111">SC (Sum)</text>
</svg>
</body></html>
